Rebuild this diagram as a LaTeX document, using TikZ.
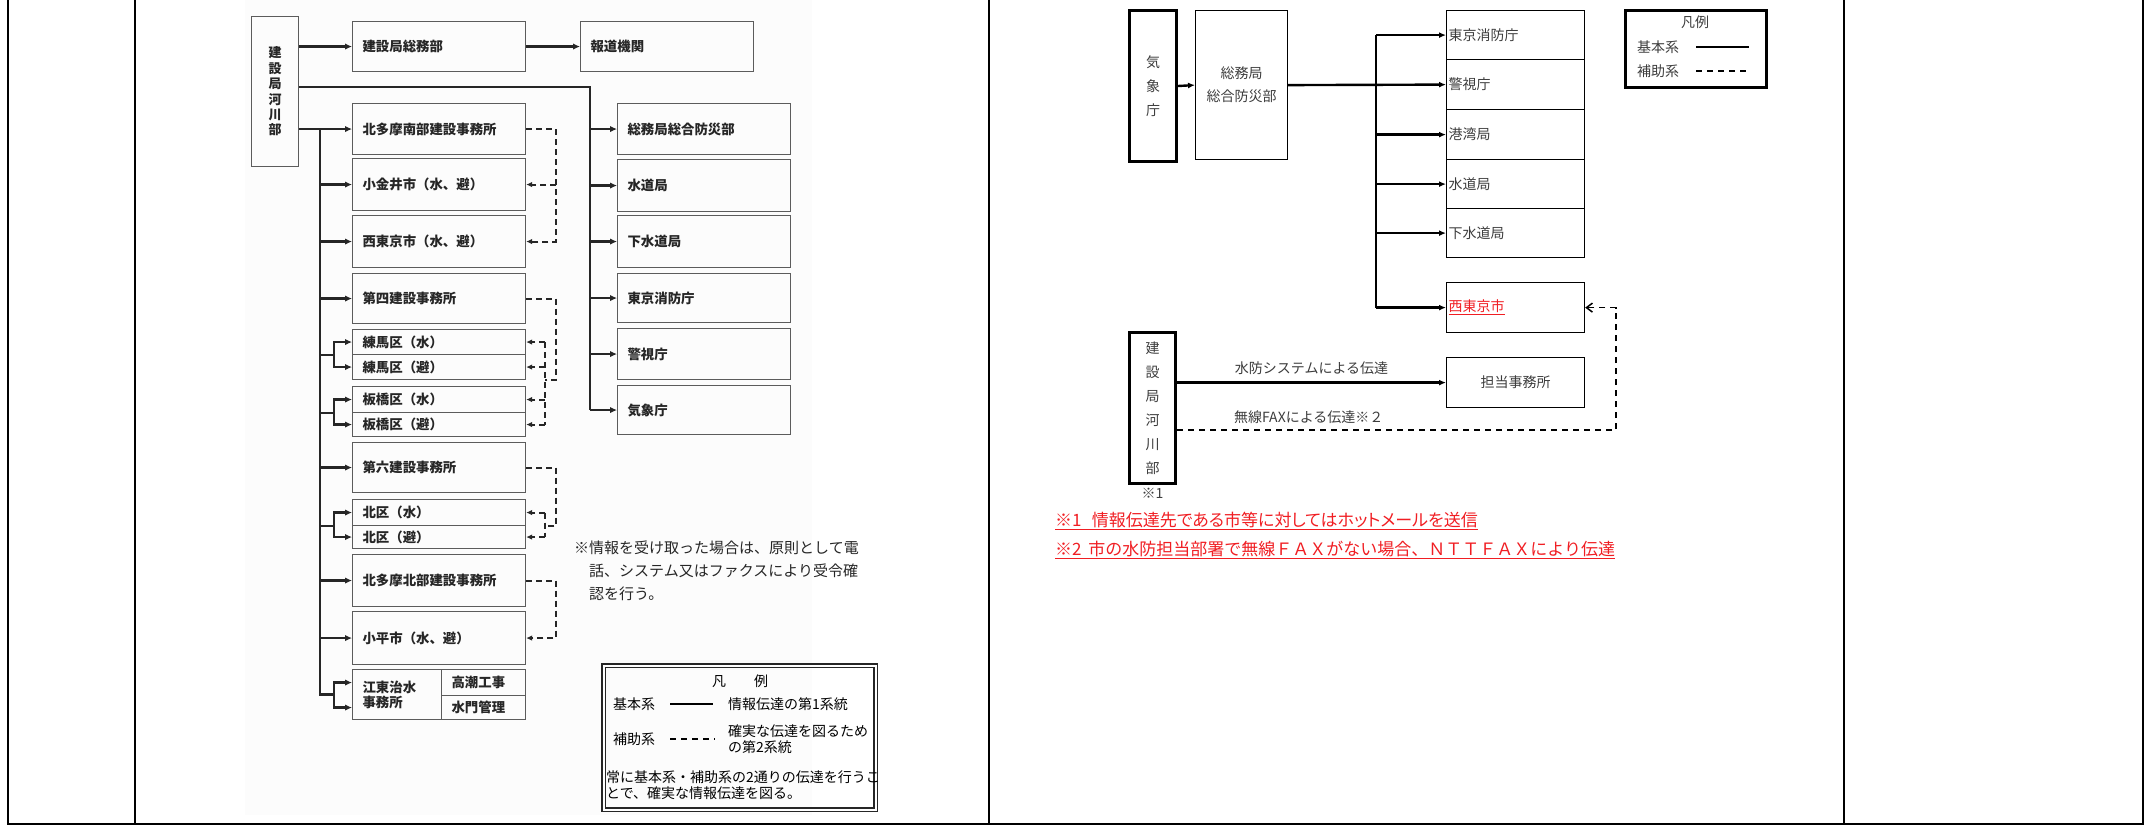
\documentclass[tikz,border=0pt]{standalone}
\usepackage{fontspec}
\setmainfont{Noto Sans CJK JP}
\usetikzlibrary{arrows.meta}
\definecolor{ink}{HTML}{262626}
\definecolor{frame}{HTML}{5C5C5C}
\definecolor{soft}{HTML}{3C3C3C}
\definecolor{alert}{HTML}{F01E23}
\definecolor{paper}{HTML}{FCFCFC}

\tikzset{
  lbox/.style={draw=frame,line width=1.1pt,anchor=north west,text width=153pt,
    inner xsep=10pt,inner ysep=0pt,align=left,text=ink,
    font=\fontsize{13.4}{15}\selectfont\bfseries},
  kbox/.style={draw=frame,line width=1.1pt,anchor=north west,align=center,
    inner sep=0pt,text=ink,font=\fontsize{13}{15.4}\selectfont\bfseries},
  rbox/.style={draw=black,line width=1.2pt,anchor=north west,text width=134pt,
    inner xsep=2pt,inner ysep=0pt,align=left,text=soft,
    font=\fontsize{14}{17}\selectfont},
  tbox/.style={draw=black,line width=3pt,anchor=north west,align=center,
    inner sep=0pt,text=soft,font=\fontsize{14}{24}\selectfont},
  conn/.style={line width=2.7pt,draw=ink},
  arr/.style={conn,-{Latex[length=7pt,width=6.5pt]}},
  dsh/.style={line width=2.1pt,draw=ink,dash pattern=on 6pt off 4pt},
  dsharr/.style={dsh,-{Latex[length=6pt,width=5.5pt]}},
  conn2/.style={line width=2.4pt,draw=black},
  arr2/.style={conn2,-{Latex[length=7pt,width=6pt]}},
  dsharr2/.style={line width=1.5pt,draw=black,dash pattern=on 6pt off 5pt,
    -{Straight Barb[length=6pt,width=9pt]}},
  lgtext/.style={anchor=west,inner sep=0pt,text=black,
    font=\fontsize{14}{16}\selectfont},
  rtext/.style={inner sep=0pt,text=soft,font=\fontsize{14}{17}\selectfont},
  redtext/.style={anchor=west,inner sep=0pt,text=alert,
    font=\fontsize{17}{20}\selectfont},
}

\begin{document}
\begin{tikzpicture}[x=1pt,y=-1pt]
\useasboundingbox (0,0) rectangle (2149,827);
% table frame
\fill[paper] (245,0) rectangle (812,815);
\draw[line width=1.6pt] (8,0) -- (8,824) -- (2143,824) -- (2143,0);
\draw[line width=1.6pt] (135,0) -- (135,824);
\draw[line width=1.6pt] (989,0) -- (989,824);
\draw[line width=1.6pt] (1844,0) -- (1844,824);

% left chart
\node[kbox,minimum width=47pt,minimum height=150pt] (kasen) at (251,16) {建\\設\\局\\河\\川\\部};
\node[lbox,minimum height=50pt] (soumu) at (352,21) {建設局総務部};
\node[lbox,minimum height=50pt] (houdou) at (580,21) {報道機関};

\node[lbox,minimum height=51pt] (bousai) at (617,103) {総務局総合防災部};
\node[lbox,minimum height=52pt] (suidou) at (617,159) {水道局};
\node[lbox,minimum height=52pt] (gesui) at (617,215) {下水道局};
\node[lbox,minimum height=49pt] (shoubou) at (617,273) {東京消防庁};
\node[lbox,minimum height=51pt] (keishi) at (617,328) {警視庁};
\node[lbox,minimum height=49pt] (kishou) at (617,385) {気象庁};

\node[lbox,minimum height=51pt] (minami) at (352,103) {北多摩南部建設事務所};
\node[lbox,minimum height=52pt] (koganei) at (352,158) {小金井市（水、避）};
\node[lbox,minimum height=52pt] (nishitokyo) at (352,215) {西東京市（水、避）};
\node[lbox,minimum height=50pt] (dai4) at (352,273) {第四建設事務所};
\node[lbox,minimum height=25pt] (nerimaW) at (352,329) {練馬区（水）};
\node[lbox,minimum height=25pt] (nerimaH) at (352,354) {練馬区（避）};
\node[lbox,minimum height=26pt] (itaW) at (352,386) {板橋区（水）};
\node[lbox,minimum height=24pt] (itaH) at (352,412) {板橋区（避）};
\node[lbox,minimum height=50pt] (dai6) at (352,442) {第六建設事務所};
\node[lbox,minimum height=26pt] (kitaW) at (352,499) {北区（水）};
\node[lbox,minimum height=23pt] (kitaH) at (352,525) {北区（避）};
\node[lbox,minimum height=52pt] (kitatama) at (352,554) {北多摩北部建設事務所};
\node[lbox,minimum height=53pt] (kodaira) at (352,611) {小平市（水、避）};
\node[lbox,text width=69pt,minimum height=50pt] (koutou) at (352,669) {江東治水\\事務所};
\node[lbox,text width=64pt,minimum height=26pt] (takashio) at (441,669) {高潮工事};
\node[lbox,text width=64pt,minimum height=24pt] (suimon) at (441,695) {水門管理};

\coordinate (ltrunk) at (320,128);
\coordinate (rtrunk) at (590,87);
\coordinate (lbr) at (334,0);
\coordinate (dout) at (556,0);
\coordinate (din) at (545,0);

\draw[arr] (kasen.east |- soumu.west) -- (soumu.west);
\draw[arr] (soumu.east) -- (houdou.west);
\draw[conn] (kasen.east |- rtrunk) -- (rtrunk) -- (rtrunk |- kishou.west);
\foreach \n in {bousai,suidou,gesui,shoubou,keishi,kishou}
  \draw[arr] (rtrunk |- \n.west) -- (\n.west);

\draw[arr] (kasen.east |- minami.west) -- (minami.west);
\draw[conn] (ltrunk) -- (ltrunk |- koutou.west) -- (lbr |- koutou.west);
\foreach \n in {koganei,nishitokyo,dai4,dai6,kitatama,kodaira}
  \draw[arr] (ltrunk |- \n.west) -- (\n.west);
\foreach \a/\b in {nerimaW/nerimaH,itaW/itaH,kitaW/kitaH}{
  \draw[conn] (ltrunk |- \a.south) -- (lbr |- \a.south);
  \draw[arr] (lbr |- \a.south) -- (lbr |- \a.west) -- (\a.west);
  \draw[arr] (lbr |- \a.south) -- (lbr |- \b.west) -- (\b.west);
}
\draw[arr] (lbr |- koutou.west) -- (lbr |- takashio.west) -- (koutou.west |- takashio.west);
\draw[arr] (lbr |- koutou.west) -- (lbr |- suimon.west) -- (koutou.west |- suimon.west);

% dashed second route
\draw[dsharr] (minami.east) -- (dout |- minami.east) -- (dout |- nishitokyo.east) -- (nishitokyo.east);
\draw[dsharr] (dout |- koganei.east) -- (koganei.east);
\draw[dsh] (dai4.east) -- (dout |- dai4.east) -- (dout |- nerimaH.south) -- (din |- nerimaH.south);
\draw[dsh] (din |- nerimaW.east) -- (din |- itaH.east);
\foreach \n in {nerimaW,nerimaH,itaW,itaH}
  \draw[dsharr] (din |- \n.east) -- (\n.east);
\draw[dsh] (dai6.east) -- (dout |- dai6.east) -- (dout |- kitaW.south) -- (din |- kitaW.south);
\draw[dsh] (din |- kitaW.east) -- (din |- kitaH.east);
\foreach \n in {kitaW,kitaH}
  \draw[dsharr] (din |- \n.east) -- (\n.east);
\draw[dsharr] (kitatama.east) -- (dout |- kitatama.east) -- (dout |- kodaira.east) -- (kodaira.east);

\node[anchor=north west,align=left,inner sep=0pt,text=ink,
  font=\fontsize{15}{23}\selectfont] (memo) at (574,541)
  {※情報を受け取った場合は、原則として電\\\hspace*{1em}話、システム又はファクスにより受令確\\\hspace*{1em}認を行う。};

% left legend
\node[draw=ink,double,double distance=2pt,line width=1.1pt,anchor=north west,
  minimum width=272pt,minimum height=144pt] (legend) at (603,665) {};
\node[lgtext,anchor=center] (lgtitle) at (740,681) {凡\hspace{2em}例};
\node[lgtext] (lgbasic) at (613,704) {基本系};
\draw[line width=2.5pt] ([xshift=15pt]lgbasic.east) -- ++(43,0);
\node[lgtext] (lgbasicd) at (728,704) {情報伝達の第1系統};
\node[lgtext] (lgsub) at (613,739) {補助系};
\draw[line width=2pt,dash pattern=on 6pt off 5pt] ([xshift=15pt]lgsub.east) -- ++(45,0);
\node[lgtext,align=left] (lgsubd) at (728,739) {確実な伝達を図るため\\の第2系統};
\node[lgtext,align=left] (lgnote) at (606,785) {常に基本系・補助系の2通りの伝達を行うこ\\とで、確実な情報伝達を図る。};

% right chart
\node[tbox,minimum width=47pt,minimum height=151pt] (kishou2) at (1128,9) {気\\象\\庁};
\node[rbox,text width=92pt,inner xsep=0pt,align=center,minimum height=149pt,
  font=\fontsize{14}{23}\selectfont] (soumu2) at (1195,10) {総務局\\総合防災部};
\node[rbox,minimum height=49pt] (shoubou2) at (1446,10) {東京消防庁};
\node[rbox,minimum height=50pt] (keishi2) at (1446,59) {警視庁};
\node[rbox,minimum height=50pt] (kouwan) at (1446,109) {港湾局};
\node[rbox,minimum height=49pt] (suidou2) at (1446,159) {水道局};
\node[rbox,minimum height=49pt] (gesui2) at (1446,208) {下水道局};
\node[rbox,minimum height=50pt,text=alert] (nishi2) at (1446,282) {\underline{西東京市}};
\node[tbox,minimum width=46pt,minimum height=151pt] (kasen2) at (1128,331) {建\\設\\局\\河\\川\\部};
\node[rtext,anchor=north] (kome1) at ([yshift=-3pt]kasen2.south) {※1};
\node[rbox,text width=138pt,inner xsep=0pt,align=center,minimum height=50pt] (tantou) at (1446,357) {担当事務所};

\coordinate (trunk2) at (1376,84);
\coordinate (fax) at (1616,430);
\draw[arr2] (kishou2.east) -- (soumu2.west);
\draw[arr2] (soumu2.east) -- (keishi2.west);
\draw[conn2] (trunk2 |- shoubou2.west) -- (trunk2 |- nishi2.west);
\foreach \n in {shoubou2,kouwan,suidou2,gesui2,nishi2}
  \draw[arr2] (trunk2 |- \n.west) -- (\n.west);
\draw[arr2] (kasen2.east |- tantou.west) -- node[rtext,above=7pt] {水防システムによる伝達} (tantou.west);
\draw[dsharr2] (kasen2.east |- fax) -- node[rtext,above=6pt,pos=0.3] {無線FAXによる伝達※２} (fax) -- (fax |- nishi2.east) -- (nishi2.east);

% right legend
\node[draw=black,line width=3pt,anchor=north west,minimum width=141pt,
  minimum height=77pt] (legend2) at (1624,9) {};
\node[rtext] (lg2title) at (1695,22) {凡例};
\node[rtext,anchor=west] (lg2basic) at (1637,47) {基本系};
\draw[line width=2.5pt] ([xshift=17pt]lg2basic.east) -- ++(53,0);
\node[rtext,anchor=west] (lg2sub) at (1637,71) {補助系};
\draw[line width=2pt,dash pattern=on 6pt off 5pt] ([xshift=17pt]lg2sub.east) -- ++(53,0);

% red notes
\node[redtext] (fn1) at (1055,521) {\underline{\addfontfeatures{RawFeature=+palt}※1\hspace{0.6em}情報伝達先である市等に対してはホットメールを送信}};
\node[redtext] (fn2) at (1055,550) {\underline{※2\hspace{0.4em}市の水防担当部署で無線ＦＡＸがない場合、ＮＴＴＦＡＸにより伝達}};
\end{tikzpicture}
\end{document}
